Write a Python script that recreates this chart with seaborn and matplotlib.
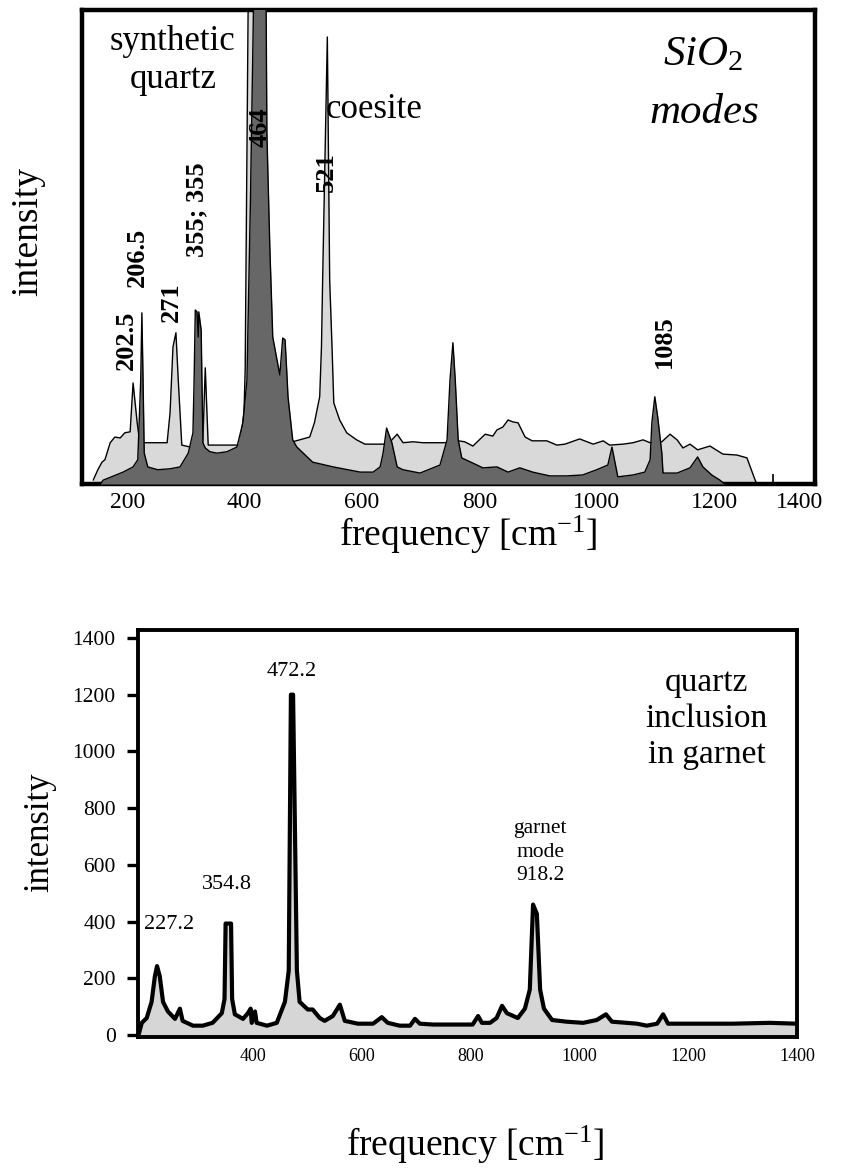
import matplotlib
matplotlib.use("Agg")
import matplotlib.pyplot as plt
import seaborn as sns
import pandas as pd

sns.set_theme(style="white")
plt.rcParams['font.family'] = ['Liberation Serif', 'DejaVu Serif']
plt.rcParams['mathtext.fontset'] = 'custom'
plt.rcParams['mathtext.rm'] = 'Liberation Serif'
plt.rcParams['mathtext.it'] = 'Liberation Serif:italic'
plt.rcParams['mathtext.bf'] = 'Liberation Serif:bold'

# ---------------- data: top panel (SiO2 modes) ----------------
coesite_freq = [142, 150, 157, 162, 171, 179, 188, 196, 205, 210, 217, 222, 230, 259, 268, 273, 278, 283, 287, 293,
                307, 319, 329, 333, 338, 392, 399, 401, 407, 417, 420, 440, 482, 511, 519, 528, 531, 533, 541, 545,
                549, 552, 562, 574, 591, 605, 639, 642, 651, 660, 670, 687, 704, 741, 755, 764, 775, 789, 810, 823,
                830, 840, 849, 857, 866, 878, 890, 915, 932, 946, 971, 994, 1011, 1022, 1045, 1062, 1079, 1091, 1111, 1125,
                1137, 1147, 1159, 1172, 1193, 1215, 1239, 1256, 1270, 1273]
coesite_int = [0.8, 3.0, 4.6, 5.1, 8.7, 9.9, 9.7, 10.8, 11.0, 21.3, 12.9, 8.2, 8.7, 8.7, 8.7, 15.0, 28.9, 31.9, 21.9, 8.2,
               7.8, 7.8, 9.3, 24.5, 8.2, 8.2, 15.0, 24.0, 115, 115, 30.0, 8.2, 8.9, 9.9, 12.9, 18.4, 28.9, 43.0, 94.3, 43.0,
               28.9, 17.1, 13.5, 10.8, 9.3, 8.4, 8.4, 8.0, 9.3, 10.5, 8.7, 8.9, 8.7, 8.7, 8.9, 9.1, 8.9, 8.0, 10.5, 10.1,
               11.4, 12.0, 13.5, 13.1, 12.9, 9.9, 9.1, 9.1, 8.2, 8.4, 9.5, 8.4, 9.1, 8.2, 8.4, 8.7, 9.3, 8.7, 8.9, 10.5,
               9.3, 7.6, 8.4, 7.2, 8.0, 6.3, 6.1, 5.5, 0.8, 0.0]

quartz_freq = [154, 159, 193, 210, 218, 223, 225, 227, 229, 235, 252, 273, 290, 304, 312, 314, 316, 319, 321, 322,
               326, 329, 333, 341, 353, 370, 387, 397, 404, 410, 417, 436, 438, 443, 448, 460, 465, 469, 472, 474,
               482, 489, 516, 551, 597, 619, 631, 636, 642, 651, 660, 670, 699, 733, 745, 750, 755, 759, 764, 770,
               789, 806, 830, 849, 869, 891, 920, 949, 976, 1000, 1019, 1026, 1036, 1062, 1082, 1091, 1094, 1099, 1104, 1111,
               1113, 1137, 1159, 1172, 1181, 1196, 1210, 1218]
quartz_int = [0.0, 0.8, 2.5, 3.6, 5.1, 21.9, 36.1, 21.9, 6.5, 3.6, 3.0, 3.2, 3.6, 6.5, 10.8, 21.9, 36.7, 36.3, 31.0, 36.3,
              32.5, 8.7, 7.6, 6.8, 6.5, 6.8, 7.8, 12.9, 21.9, 60.0, 115, 115, 74.0, 50.0, 31.0, 23.0, 30.8, 30.4, 23.4, 18.4,
              9.3, 7.8, 4.6, 3.6, 2.5, 2.5, 3.6, 6.5, 11.8, 8.7, 3.6, 3.0, 2.3, 4.0, 9.3, 21.9, 29.8, 21.9, 9.3, 5.5,
              4.4, 3.4, 3.6, 2.5, 3.4, 2.5, 1.7, 1.7, 1.9, 3.0, 4.0, 7.8, 1.5, 1.9, 2.5, 5.1, 12.9, 18.4, 14.1, 6.5,
              2.3, 2.3, 3.4, 5.7, 3.6, 1.9, 0.8, 0.0]

top_xticks = [200, 400, 600, 800, 1000, 1200]
top_minor = [300, 500, 700, 900, 1100, 1300]
top_peak_labels = ["202.5", "206.5", "271", "355; 355", "464", "521", "1085"]
top_peak_x = [198, 217, 276, 319, 426, 540, 1116]
top_peak_y = [30.2, 47.7, 38.4, 57.8, 75.3, 65.8, 30.0]

# ---------------- data: bottom panel (quartz inclusion in garnet) ----------------
garnet_freq = [190, 196, 205, 214, 220, 224, 229, 235, 244, 257, 266, 271, 290, 308, 326, 343, 348, 350, 360, 362,
               367, 382, 391, 396, 398, 404, 407, 426, 444, 459, 466, 470, 474, 481, 486, 501, 510, 523, 532, 547,
               560, 569, 593, 621, 637, 648, 670, 689, 698, 707, 731, 804, 814, 821, 836, 848, 858, 867, 887, 900,
               909, 915, 922, 928, 935, 950, 977, 1007, 1032, 1049, 1060, 1087, 1106, 1124, 1143, 1154, 1163, 1222, 1282, 1350,
               1400]
garnet_int = [0, 43, 60, 117, 207, 243, 207, 117, 83, 57, 93, 50, 33, 33, 43, 77, 127, 393, 393, 127,
              73, 57, 77, 93, 43, 83, 43, 33, 43, 117, 227, 1200, 1200, 227, 117, 90, 90, 60, 50, 67,
              107, 50, 40, 40, 63, 43, 33, 33, 57, 40, 37, 37, 67, 43, 43, 60, 103, 77, 60, 93,
              160, 460, 427, 160, 93, 53, 47, 43, 53, 73, 47, 43, 40, 33, 40, 73, 40, 40, 40, 43,
              40]
bottom_xticks = [400, 600, 800, 1000, 1200, 1400]
bottom_yticks = [0, 200, 400, 600, 800, 1000, 1200, 1400]
bottom_peak_labels = ["227.2", "354.8", "472.2", "garnet\nmode\n918.2"]
bottom_peak_x = [246, 352, 472, 928]
bottom_peak_y = [388, 529, 1280, 645]

coesite = pd.DataFrame({"freq": coesite_freq, "int": coesite_int})
quartz = pd.DataFrame({"freq": quartz_freq, "int": quartz_int})
garnet = pd.DataFrame({"freq": garnet_freq, "int": garnet_int})

fig = plt.figure(figsize=(8.43, 11.69), dpi=100)
ax1 = fig.add_axes([0.0973, 0.586, 0.8695, 0.4055])
ax2 = fig.add_axes([0.1637, 0.1129, 0.7817, 0.3482])

# ---------- top panel ----------
ax1.fill_between(coesite["freq"], coesite["int"], 0, color="#d9d9d9", lw=0, zorder=1)
sns.lineplot(data=coesite, x="freq", y="int", ax=ax1, color="black", lw=1.0,
             sort=False, estimator=None, zorder=2)
ax1.fill_between(quartz["freq"], quartz["int"], 0, color="#676767", lw=0, zorder=3)
sns.lineplot(data=quartz, x="freq", y="int", ax=ax1, color="black", lw=1.0,
             sort=False, estimator=None, zorder=4)

ax1.set_xlim(123, 1372)
ax1.set_ylim(0, 100)
ax1.set_xticks(top_xticks)
ax1.set_xticks(top_minor, minor=True)
ax1.set_yticks([])
ax1.tick_params(axis="x", which="major", direction="in", length=7, width=2.2,
                color="black", labelsize=17, pad=6, bottom=True, labelcolor="black")
ax1.tick_params(axis="x", which="minor", direction="in", length=7, width=1.2,
                color="black", bottom=True)
ax1.text(1346, -0.0175, "1400", transform=ax1.get_xaxis_transform(),
         ha="center", va="top", fontsize=17, color="black")
for s in ax1.spines.values():
    s.set_visible(True)
    s.set_color("black")
    s.set_linewidth(3.2)
ax1.set_xlabel(r"frequency [$\mathrm{cm}^{-1}$]", fontsize=27, color="black", va="center")
ax1.xaxis.set_label_coords(0.527, -0.108)
ax1.set_ylabel("intensity", fontsize=27, color="black", va="center")
ax1.yaxis.set_label_coords(-0.074, 0.532)

for lab, x, y in zip(top_peak_labels, top_peak_x, top_peak_y):
    ax1.text(x, y, lab, rotation=90, ha="center", va="center", fontsize=19,
             fontweight="bold", color="black", zorder=6)
ax1.text(278, 89.3, "synthetic\nquartz", ha="center", va="center", fontsize=25,
         linespacing=1.2, color="black", zorder=6)
ax1.text(620, 78.9, "coesite", ha="center", va="center", fontsize=25, color="black", zorder=6)
ax1.text(1181, 90.5, r"$SiO_2$", ha="center", va="center", fontsize=31, color="black", zorder=6)
ax1.text(1184, 78.3, "modes", ha="center", va="center", fontsize=31, style="italic",
         color="black", zorder=6)

# ---------- bottom panel ----------
ax2.set_xlim(189, 1400)
ax2.set_ylim(-7, 1428)
ax2.fill_between(garnet["freq"], garnet["int"], ax2.get_ylim()[0], color="#d6d6d6", lw=0, zorder=1)
sns.lineplot(data=garnet, x="freq", y="int", ax=ax2, color="black", lw=3.0,
             sort=False, estimator=None, zorder=2)
ax2.set_xticks(bottom_xticks)
ax2.set_yticks(bottom_yticks)
ax2.tick_params(axis="x", direction="in", length=7, width=1.6, color="black",
                labelsize=13, pad=8, bottom=True, labelcolor="black")
ax2.tick_params(axis="y", direction="out", length=8, width=2.4, color="black",
                labelsize=15.5, pad=8, left=True, labelcolor="black")
for s in ax2.spines.values():
    s.set_visible(True)
    s.set_color("black")
    s.set_linewidth(2.8)
ax2.set_xlabel(r"frequency [$\mathrm{cm}^{-1}$]", fontsize=27, color="black", va="center")
ax2.xaxis.set_label_coords(0.511, -0.265)
ax2.set_ylabel("intensity", fontsize=25, color="black", va="center")
ax2.yaxis.set_label_coords(-0.149, 0.504)

for lab, x, y in zip(bottom_peak_labels, bottom_peak_x, bottom_peak_y):
    fs = 15.5 if "\n" in lab else 16
    ax2.text(x, y, lab, ha="center", va="center", fontsize=fs, linespacing=1.3,
             color="black", zorder=6)
ax2.text(1234, 1115, "quartz\ninclusion\nin garnet", ha="center", va="center",
         fontsize=24, linespacing=1.25, color="black", zorder=6)

fig.savefig("out.png", dpi=100)
